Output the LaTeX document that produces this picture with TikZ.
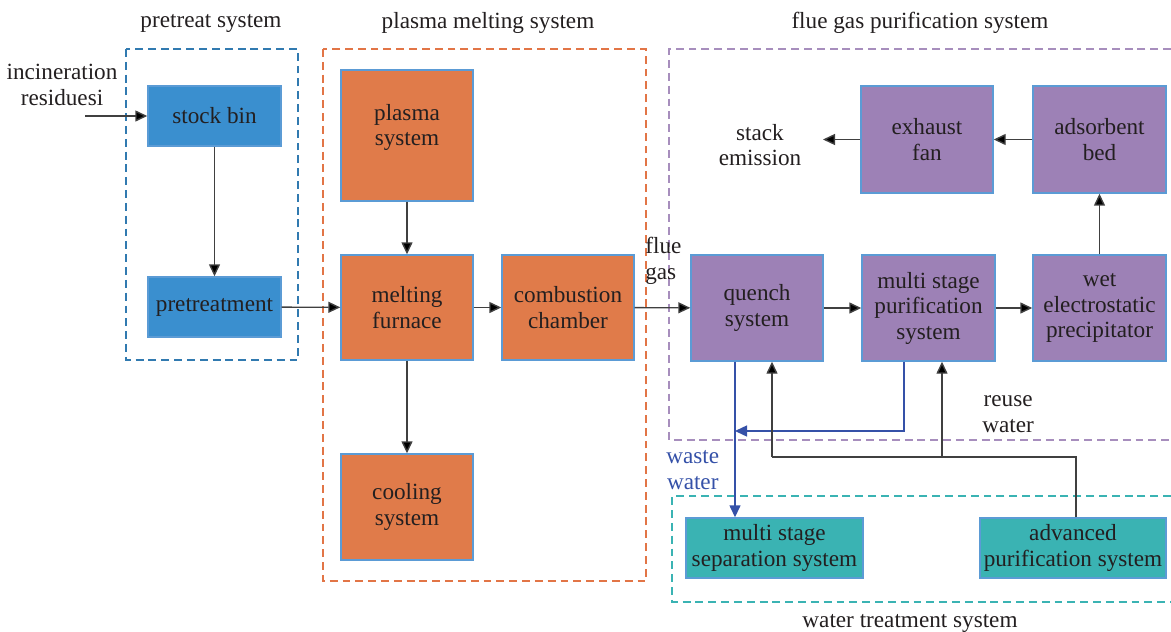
\documentclass[tikz,border=0pt]{standalone}
\usepackage{fontspec}
\setmainfont{Liberation Serif}
\usetikzlibrary{arrows.meta}
\definecolor{pretreatblue}{HTML}{3A8FCF}
\definecolor{meltorange}{HTML}{E07B4A}
\definecolor{fluepurple}{HTML}{9D81B6}
\definecolor{waterteal}{HTML}{3AB3B3}
\definecolor{edgeblue}{HTML}{5B9BD5}
\definecolor{linegray}{HTML}{404040}
\definecolor{wasteblue}{HTML}{3551A8}
\definecolor{txtgray}{HTML}{231F20}

\begin{document}
\begin{tikzpicture}[x=0.02cm,y=-0.02cm,
	txt/.style={font=\fontsize{13.2}{14.5}\selectfont, text=txtgray, align=center, inner sep=0pt},
	blk/.style={txt, draw=edgeblue, line width=0.8pt},
	sz/.style 2 args={minimum width=#1*0.02cm, minimum height=#2*0.02cm},
	flow/.style={draw=linegray, line width=0.8pt, -{Triangle[length=2.4mm,width=2.2mm,fill=black]}},
	waste/.style={flow, draw=wasteblue, -{Triangle[length=2.4mm,width=2.2mm,fill=wasteblue]}},
	frame/.style={line width=1.1pt, dash pattern=on 4.5pt off 2.8pt}]
	%%%%% START %%%%%
	\useasboundingbox (0,0) rectangle (1171,632);
	
	% frames
	\draw[frame, color=pretreatblue!85!black] (126,49) rectangle (298,360);
	\draw[frame, color=meltorange!95!red] (323,49) rectangle (646,581);
	\draw[frame, color=fluepurple!90!white] (1171,49) -- (669,49) -- (669,440) -- (1171,440);
	\draw[frame, color=waterteal] (1171,496) -- (672,496) -- (672,602) -- (1171,602);
	
	\node[txt] (pretreatlbl) at (211,23) {pretreat system};
	\node[txt] (meltlbl) at (488,23) {plasma melting system};
	\node[txt] (fluelbl) at (920,23) {flue gas purification system};
	\node[txt] (waterlbl) at (910,623) {water treatment system};
	
	% pretreat
	\node[blk, sz={133}{60}, fill=pretreatblue] (stock) at (214.5,116) {\raisebox{-3pt}{stock bin}};
	\node[blk, sz={133}{60}, fill=pretreatblue] (pretreat) at (214.5,307) {pretreatment};
	\node[txt] (residue) at (62,85) {incineration\\residuesi};
	\coordinate (inlet) at (85,116);
	
	% plasma melting
	\node[blk, sz={132}{131}, fill=meltorange, text depth=12pt] (plasma) at (407,135.5) {plasma\\system};
	\node[blk, sz={132}{105}, fill=meltorange] (furnace) at (407,307.5) {melting\\furnace};
	\node[blk, sz={132}{105}, fill=meltorange] (combustion) at (568,307.5) {combustion\\chamber};
	\node[blk, sz={132}{106}, fill=meltorange] (cooling) at (407,507) {cooling\\system};
	
	% flue gas
	\node[txt, align=left, anchor=west] (fluegas) at (645,261) {flue\\gas};
	\node[blk, sz={132}{106}, fill=fluepurple] (quench) at (757,308) {quench\\system};
	\node[blk, sz={133}{106}, fill=fluepurple] (purif) at (928.5,308) {multi stage\\purification\\system};
	\node[blk, sz={133}{106}, fill=fluepurple] (wesp) at (1099.5,308) {wet\\electrostatic\\precipitator};
	\node[blk, sz={132}{107}, fill=fluepurple] (fan) at (927,139.5) {exhaust\\fan};
	\node[blk, sz={133}{107}, fill=fluepurple] (bed) at (1099.5,139.5) {adsorbent\\bed};
	\node[txt] (stack) at (760,145) {stack\\emission};
	\coordinate (stackend) at (823,139.5);
	
	% water treatment
	\node[blk, sz={177}{60}, fill=waterteal] (sep) at (774.5,548) {multi stage\\separation system};
	\node[blk, sz={186}{60}, fill=waterteal] (adv) at (1073,548) {advanced\\purification system};
	\node[txt, text=wasteblue, anchor=west] (wastelbl) at (666,470) {waste\\water};
	\node[txt, anchor=west] (reuselbl) at (982,414) {reuse\\water};
	
	\coordinate (wx) at (735,0);
	\coordinate (px) at (904,431);
	\coordinate (rx) at (772,0);
	\coordinate (gx) at (942,0);
	\coordinate (ax) at (1076,457);
	
	% connectors
	\draw[flow] (inlet) -- (stock);
	\draw[flow] (stock) -- (pretreat);
	\draw[flow] (pretreat) -- (furnace);
	\draw[flow] (plasma) -- (furnace);
	\draw[flow] (furnace) -- (cooling);
	\draw[flow] (furnace) -- (combustion);
	\draw[flow] (combustion) -- (quench);
	\draw[flow] (quench) -- (purif);
	\draw[flow] (purif) -- (wesp);
	\draw[flow] (wesp) -- (bed);
	\draw[flow] (bed) -- (fan);
	\draw[flow] (fan) -- (stackend);
	
	\draw[waste] (quench.south -| wx) -- (sep.north -| wx);
	\draw[waste] (purif.south -| px) -- (px) -- (wx |- px);
	
	\draw[flow, -] (adv.north -| ax) -- (ax) -- (rx |- ax);
	\draw[flow] (rx |- ax) -- (quench.south -| rx);
	\draw[flow] (gx |- ax) -- (purif.south -| gx);
	
	%%%%% END %%%%%
\end{tikzpicture}
\end{document}
